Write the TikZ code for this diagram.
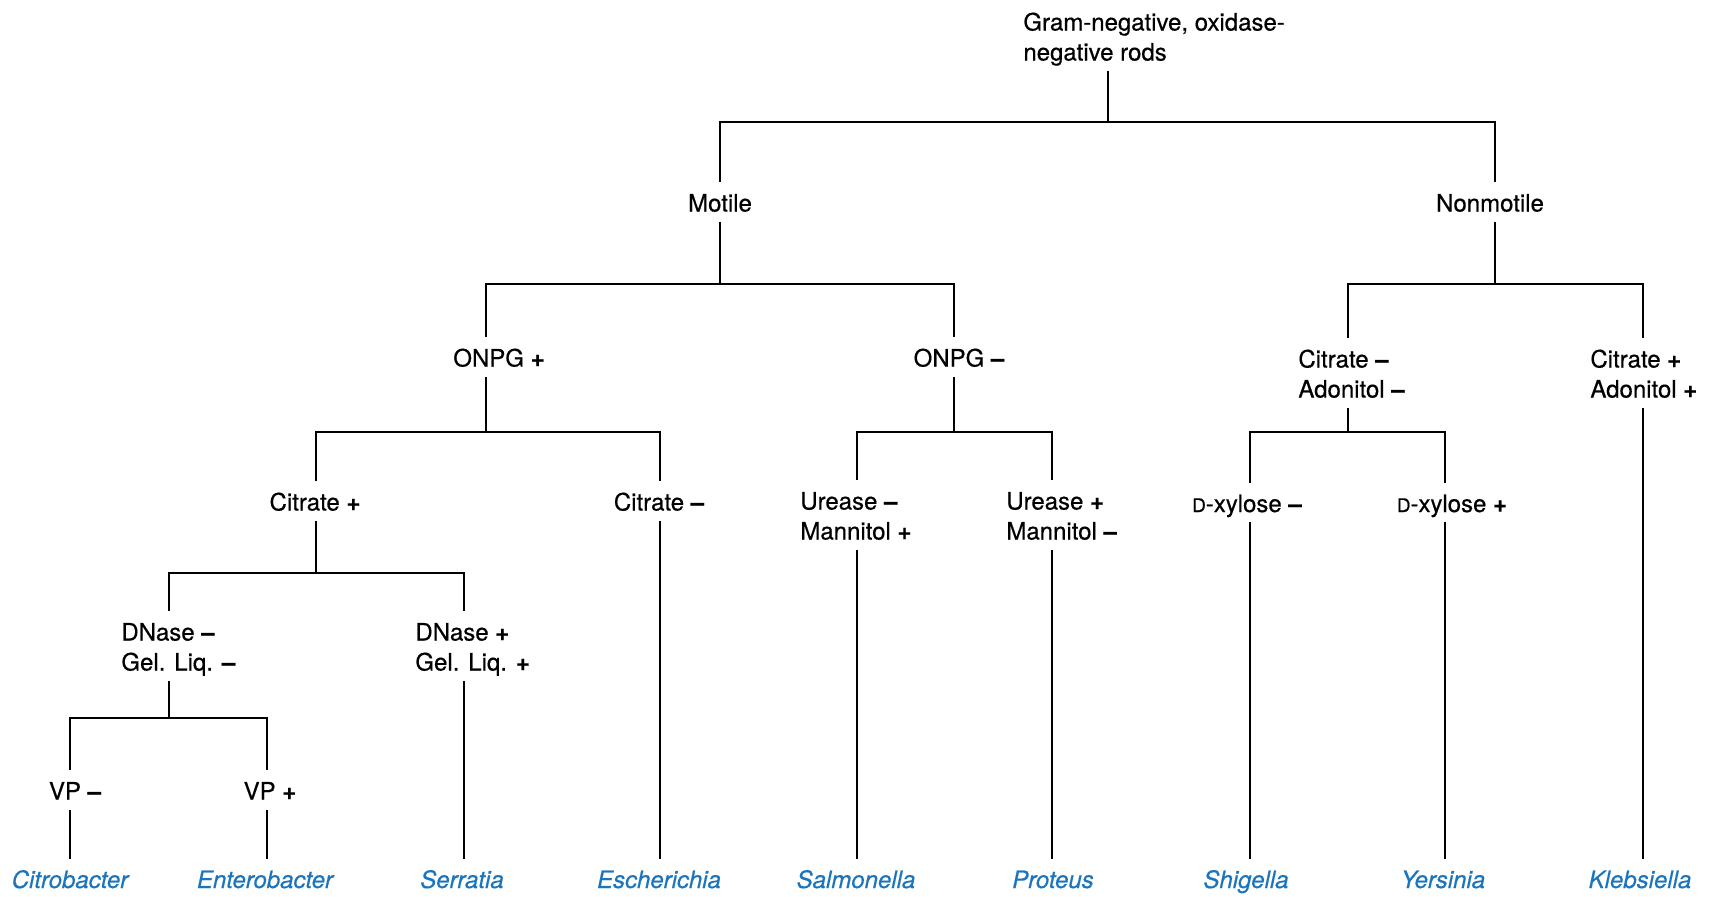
\documentclass[tikz,border=0pt]{standalone}
\usepackage{fontspec}
\setmainfont{TeX Gyre Heros}[FakeBold=0.5, ItalicFeatures={FakeBold=0.5}]
\definecolor{genusblue}{RGB}{28,117,188}
\newcommand\twoline[2]{\begin{tabular}[t]{@{}l@{}}#1\\#2\end{tabular}}
\newcommand\smallD{{\fontsize{9.4}{15}\selectfont D}}
% test signs, set a little heavier than the words
\newcommand\pos{{\bfseries +}}
\newcommand\negs{{\bfseries –}}
\begin{document}
\begin{tikzpicture}[x=0.5pt,y=-0.5pt,
  lbl/.style={inner xsep=0pt, inner ysep=5pt, text height=9.5pt, text depth=0pt,
              font=\fontsize{12}{15}\selectfont, anchor=base},
  two/.style={anchor=base west, text depth=15pt},
  genus/.style={lbl, font=\fontsize{12}{15}\selectfont\itshape, text=genusblue},
  conn/.style={line width=1.3pt, line join=miter}]
\useasboundingbox (0,0) rectangle (1719,896);

% decision labels
\node[lbl,two] (root) at (1023,30.5) {\twoline{Gram-negative, oxidase-}{negative rods}};
\node[lbl] (motile)    at (720,211.5)  {Motile};
\node[lbl] (nonmotile) at (1490,211.5) {Nonmotile};
\node[lbl] (onpgp)     at (499,366.5)  {ONPG \pos};
\node[lbl] (onpgm)     at (959,366.5)  {ONPG \negs};
\node[lbl,two] (citam) at (1298,367.5) {\twoline{Citrate \negs}{Adonitol \negs}};
\node[lbl,two] (citap) at (1590,367.5) {\twoline{Citrate \pos}{Adonitol \pos}};
\node[lbl] (citp)      at (315,510.5)  {Citrate \pos};
\node[lbl] (citm)      at (659,510.5)  {Citrate \negs};
\node[lbl,two] (urem)  at (800,509.5)  {\twoline{Urease \negs}{Mannitol \pos}};
\node[lbl,two] (urep)  at (1006,509.5) {\twoline{Urease \pos}{Mannitol \negs}};
\node[lbl] (dxylm)     at (1247,512)   {\smallD-xylose \negs};
\node[lbl] (dxylp)     at (1452,512)   {\smallD-xylose \pos};
\node[lbl,two] (dnasem) at (121,640.5) {\twoline{DNase \negs}{Gel. Liq. \negs}};
\node[lbl,two] (dnasep) at (415,640.5) {\twoline{DNase \pos}{Gel. Liq. \pos}};
\node[lbl] (vpm)       at (75,799.5)   {VP \negs};
\node[lbl] (vpp)       at (270,799.5)  {VP \pos};

% genera
\node[genus] (citrobacter)  at (70,888)   {Citrobacter};
\node[genus] (enterobacter) at (265,888)  {Enterobacter};
\node[genus] (serratia)     at (462,888)  {Serratia};
\node[genus] (escherichia)  at (659,888)  {Escherichia};
\node[genus] (salmonella)   at (856,888)  {Salmonella};
\node[genus] (proteus)      at (1053,888) {Proteus};
\node[genus] (shigella)     at (1246,888) {Shigella};
\node[genus] (yersinia)     at (1443,888) {Yersinia};
\node[genus] (klebsiella)   at (1640,888) {Klebsiella};

% branch points (j) and branch tops (t)
\coordinate (root-j)      at (1108,122);
\coordinate (motile-t)    at (720,122);
\coordinate (nonmotile-t) at (1495,122);
\coordinate (motile-j)    at (720,284);
\coordinate (onpgp-t)     at (486,284);
\coordinate (onpgm-t)     at (954,284);
\coordinate (nonmotile-j) at (1495,284);
\coordinate (citam-t)     at (1348,284);
\coordinate (citap-t)     at (1643,284);
\coordinate (onpgp-j)     at (486,432);
\coordinate (citp-t)      at (316,432);
\coordinate (citm-t)      at (660,432);
\coordinate (onpgm-j)     at (954,432);
\coordinate (urem-t)      at (857,432);
\coordinate (urep-t)      at (1052,432);
\coordinate (citam-j)     at (1348,432);
\coordinate (dxylm-t)     at (1250,432);
\coordinate (dxylp-t)     at (1445,432);
\coordinate (citp-j)      at (316,573);
\coordinate (dnasem-t)    at (169,573);
\coordinate (dnasep-t)    at (464,573);
\coordinate (dnasem-j)    at (169,718);
\coordinate (vpm-t)       at (70,718);
\coordinate (vpp-t)       at (267,718);

% splits
\draw[conn] (root.south -| root-j) -- (root-j);
\draw[conn] (motile.north -| motile-t) -- (motile-t) -- (nonmotile-t) -- (nonmotile.north -| nonmotile-t);

\draw[conn] (motile.south -| motile-j) -- (motile-j);
\draw[conn] (onpgp.north -| onpgp-t) -- (onpgp-t) -- (onpgm-t) -- (onpgm.north -| onpgm-t);

\draw[conn] (nonmotile.south -| nonmotile-j) -- (nonmotile-j);
\draw[conn] (citam.north -| citam-t) -- (citam-t) -- (citap-t) -- (citap.north -| citap-t);

\draw[conn] (onpgp.south -| onpgp-j) -- (onpgp-j);
\draw[conn] (citp.north -| citp-t) -- (citp-t) -- (citm-t) -- (citm.north -| citm-t);

\draw[conn] (onpgm.south -| onpgm-j) -- (onpgm-j);
\draw[conn] (urem.north -| urem-t) -- (urem-t) -- (urep-t) -- (urep.north -| urep-t);

\draw[conn] (citam.south -| citam-j) -- (citam-j);
\draw[conn] (dxylm.north -| dxylm-t) -- (dxylm-t) -- (dxylp-t) -- (dxylp.north -| dxylp-t);

\draw[conn] (citp.south -| citp-j) -- (citp-j);
\draw[conn] (dnasem.north -| dnasem-t) -- (dnasem-t) -- (dnasep-t) -- (dnasep.north -| dnasep-t);

\draw[conn] (dnasem.south -| dnasem-j) -- (dnasem-j);
\draw[conn] (vpm.north -| vpm-t) -- (vpm-t) -- (vpp-t) -- (vpp.north -| vpp-t);

% leaves
\draw[conn] (vpm.south -| vpm-t) -- (citrobacter.north -| vpm-t);
\draw[conn] (vpp.south -| vpp-t) -- (enterobacter.north -| vpp-t);
\draw[conn] (dnasep.south -| dnasep-t) -- (serratia.north -| dnasep-t);
\draw[conn] (citm.south -| citm-t) -- (escherichia.north -| citm-t);
\draw[conn] (urem.south -| urem-t) -- (salmonella.north -| urem-t);
\draw[conn] (urep.south -| urep-t) -- (proteus.north -| urep-t);
\draw[conn] (dxylm.south -| dxylm-t) -- (shigella.north -| dxylm-t);
\draw[conn] (dxylp.south -| dxylp-t) -- (yersinia.north -| dxylp-t);
\draw[conn] (citap.south -| citap-t) -- (klebsiella.north -| citap-t);
\end{tikzpicture}
\end{document}
